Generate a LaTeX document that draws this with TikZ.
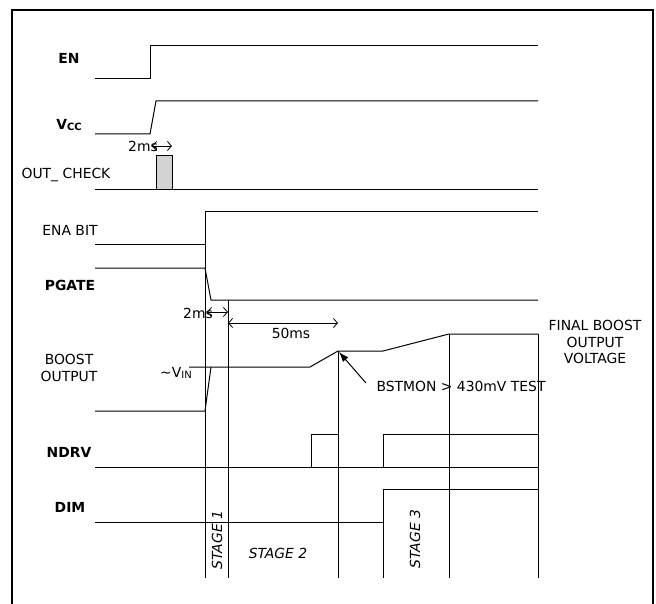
\documentclass[tikz,border=0pt]{standalone}
\usepackage{fontspec}
\setmainfont{DejaVu Sans}
\usetikzlibrary{arrows.meta}
\definecolor{pulsegray}{RGB}{211,211,211}

\begin{document}
\begin{tikzpicture}[x=1pt, y=-1pt,
  every node/.style={font=\fontsize{13.9}{16.7}\selectfont},
  sig/.style={line width=1pt, black},
  frame/.style={line width=2pt, black},
  signame/.style={font=\fontsize{13.9}{16.7}\selectfont\bfseries},
  sigtext/.style={align=center},
  stagetxt/.style={font=\fontsize{13.9}{16.7}\selectfont\itshape},
  timearrow/.style={{Straight Barb[length=4pt,width=9pt]}-{Straight Barb[length=4pt,width=9pt]},
                    line width=0.8pt},
  bigarrow/.style={-{Latex[length=10pt,width=7pt]}, line width=1pt},
]
\useasboundingbox (0,0) rectangle (656,604);

%% Outer frame (open at the bottom)
\draw[frame] (12,604) |- (653,10) -- (653,604);

%% Signal names
\node[signame] (en)    at (69,58)  {EN};
\node[signame] (vcc)   at (69,125) {V\raisebox{-1.5pt}{\fontsize{10}{10}\selectfont CC}};
\node          (chk)   at (66,175) {OUT\_ CHECK};
\node          (ena)   at (70,230) {ENA BIT};
\node[signame] (pgate) at (70,285) {PGATE};
\node[sigtext] (boost) at (69,368) {BOOST\\OUTPUT};
\node[signame] (ndrv)  at (69,452) {NDRV};
\node[signame] (dim)   at (70,507) {DIM};

%% Waveforms
\draw[sig] (95,79) -- (150,79) -- (150,46) -- (538,46);
\draw[sig] (95,134) -- (150,134) -- (156,101) -- (538,101);
\draw[sig] (95,190) -- (538,190);
\draw[sig, fill=pulsegray] (156,190) rectangle (172,156);
\draw[sig] (95,245) -- (205,245) -- (205,212) -- (538,212);
\draw[sig] (95,268) -- (205,268) -- (211,300) -- (538,300);
\draw[sig] (95,411) -- (205,411) -- (211,367);
\draw[sig] (189,367) -- (310,367) -- (338,351) -- (383,351)
  -- (449,334) -- (538,334);
\draw[sig] (95,467) -- (538,467);
\draw[sig] (311,467) |- (338,434);
\draw[sig] (383,467) |- (538,434);
\draw[sig] (95,522) -- (383,522) -- (383,489) -- (538,489);

%% Stage boundaries
\foreach \x/\y in {205/245, 228/300, 338/351, 383/489, 449/334, 538/334} {
  \draw[sig] (\x,\y) -- (\x,578);
}

%% Timing marks
\node (d1) at (143,146) {2ms};
\draw[timearrow] (152,146) -- (172,146);
\node (d2) at (198,313) {2ms};
\draw[timearrow] (207,312) -- (228,312);
\node (d3) at (291,333) {50ms};
\draw[timearrow] (228,323) -- (338,323);

%% Levels and notes
\node (vin) at (176,373) {\textasciitilde V\raisebox{-1.5pt}{\fontsize{10}{10}\selectfont IN}};
\node[sigtext] (final) at (595,342) {FINAL BOOST\\OUTPUT\\VOLTAGE};
\node (bstmon) at (461,386) {BSTMON > 430mV TEST};
\coordinate (peak) at (339,352);
\draw[bigarrow] ([xshift=-7pt,yshift=3pt]bstmon.west) -- (peak);

%% Stage labels
\node[stagetxt, rotate=90] (st1) at (217,540) {STAGE 1};
\node[stagetxt]            (st2) at (278,553) {STAGE 2};
\node[stagetxt, rotate=90] (st3) at (415,539) {STAGE 3};

\end{tikzpicture}
\end{document}
